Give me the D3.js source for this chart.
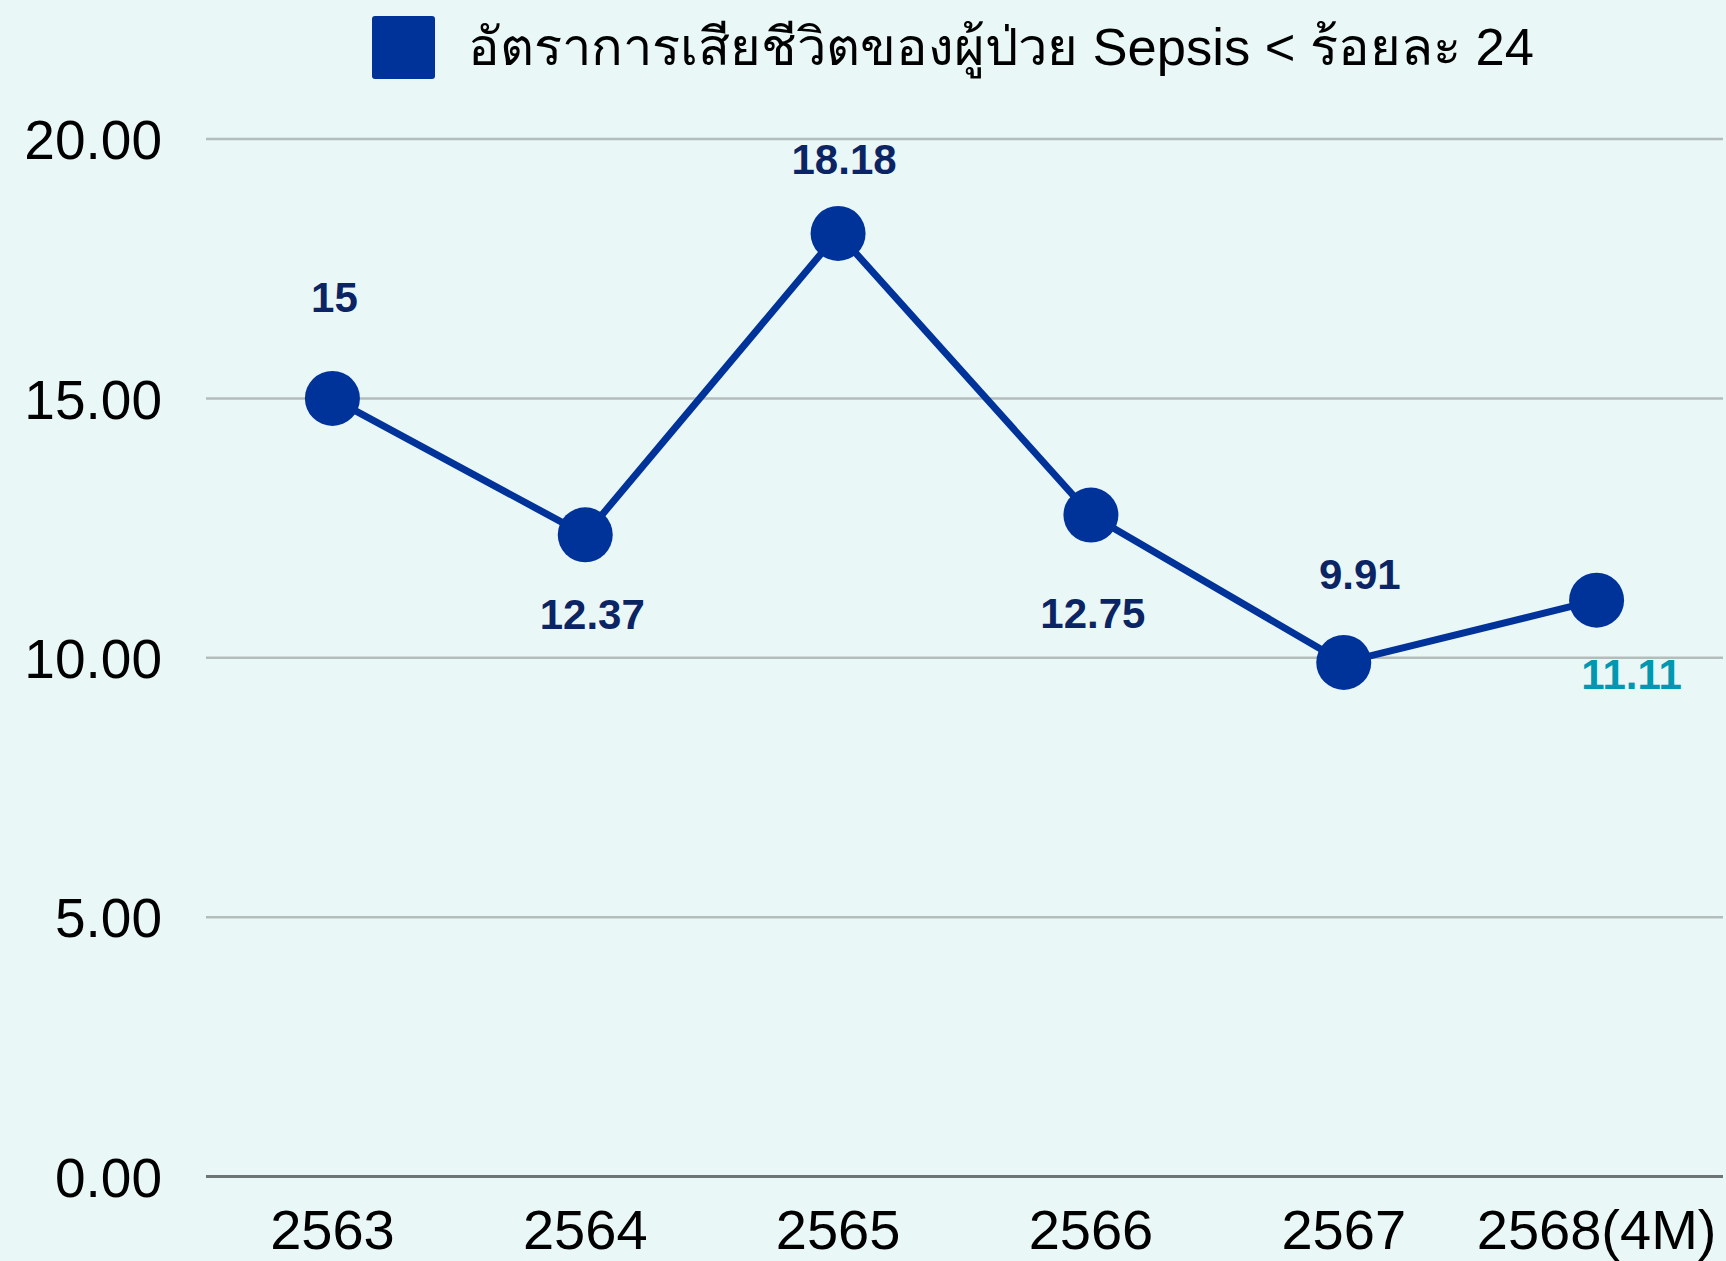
<!DOCTYPE html>
<html>
<head>
<meta charset="utf-8">
<script src="https://cdn.jsdelivr.net/npm/d3@7"></script>
<style>
  html, body { margin: 0; padding: 0; background: #EAF7F7; }
  svg { display: block; }
</style>
</head>
<body>
<svg id="chart" width="1726" height="1261"></svg>
<script>
// Sepsis mortality rate by fiscal year (percent)
const years = ["2563", "2564", "2565", "2566", "2567", "2568(4M)"];
const deathRate = [15, 12.37, 18.18, 12.75, 9.91, 11.11];
const valueLabels = ["15", "12.37", "18.18", "12.75", "9.91", "11.11"];
const yTicks = [0, 5, 10, 15, 20];
const seriesName = "อัตราการเสียชีวิตของผู้ป่วย Sepsis < ร้อยละ 24";

const W = 1726, H = 1261;
const plot = { left: 206, right: 1723, top: 139, bottom: 1176.5 };
const font = "'Liberation Sans', Arial, sans-serif";

const svg = d3.select("#chart");
svg.append("rect").attr("width", W).attr("height", H).attr("fill", "#EAF7F7");

const x = d3.scaleBand().domain(years).range([plot.left, plot.right]);
const y = d3.scaleLinear().domain([0, 20]).range([plot.bottom, plot.top]);
const cx = d => x(d) + x.bandwidth() / 2;

// horizontal gridlines
svg.append("g").selectAll("line")
  .data(yTicks.filter(t => t > 0))
  .join("line")
  .attr("x1", plot.left).attr("x2", plot.right)
  .attr("y1", d => y(d)).attr("y2", d => y(d))
  .attr("stroke", "#B3BDBC").attr("stroke-width", 2.5);

// baseline
svg.append("line")
  .attr("x1", plot.left).attr("x2", plot.right)
  .attr("y1", y(0)).attr("y2", y(0))
  .attr("stroke", "#6C7574").attr("stroke-width", 3);

// y axis labels
const yAxis = d3.axisLeft(y).tickValues(yTicks).tickFormat(d3.format(".2f")).tickSize(0).tickPadding(0);
const yg = svg.append("g").attr("transform", `translate(162,0)`).call(yAxis);
yg.select(".domain").remove();
yg.selectAll("text")
  .attr("font-family", font).attr("font-size", 55).attr("fill", "#000")
  .attr("dy", "0.36em");

// x axis labels
const xAxis = d3.axisBottom(x).tickSize(0).tickPadding(0);
const xg = svg.append("g").attr("transform", `translate(0,1249)`).call(xAxis);
xg.select(".domain").remove();
xg.selectAll("text")
  .attr("font-family", font).attr("font-size", 56).attr("fill", "#000")
  .attr("dy", null).attr("y", 0);

// series line
const line = d3.line().x((d, i) => cx(years[i])).y(d => y(d));
svg.append("path")
  .datum(deathRate)
  .attr("d", line)
  .attr("fill", "none")
  .attr("stroke", "#003399")
  .attr("stroke-width", 7)
  .attr("stroke-linejoin", "round");

// markers
svg.append("g").selectAll("circle")
  .data(deathRate)
  .join("circle")
  .attr("cx", (d, i) => cx(years[i]))
  .attr("cy", d => y(d))
  .attr("r", 27.5)
  .attr("fill", "#003399");

// data labels: offset from each marker (dx, dy to label centre)
const labelShift = [[2, -101], [7, 79], [6, -75], [2, 98], [16, -89], [35, 74]];
const labelColor = ["#0B2463", "#0B2463", "#0B2463", "#0B2463", "#0B2463", "#0098B0"];
svg.append("g").selectAll("text")
  .data(deathRate)
  .join("text")
  .attr("x", (d, i) => cx(years[i]) + labelShift[i][0])
  .attr("y", (d, i) => y(d) + labelShift[i][1])
  .attr("dy", "0.36em")
  .attr("text-anchor", "middle")
  .attr("font-family", font)
  .attr("font-weight", "bold")
  .attr("font-size", 42)
  .attr("fill", (d, i) => labelColor[i])
  .text((d, i) => valueLabels[i]);

// legend
const lg = svg.append("g");
lg.append("rect")
  .attr("x", 372).attr("y", 16).attr("width", 63).attr("height", 63)
  .attr("rx", 3).attr("fill", "#003399");
lg.append("text")
  .attr("x", 468).attr("y", 65)
  .attr("font-family", font).attr("font-size", 52.5).attr("fill", "#000")
  .text(seriesName);
</script>
</body>
</html>
